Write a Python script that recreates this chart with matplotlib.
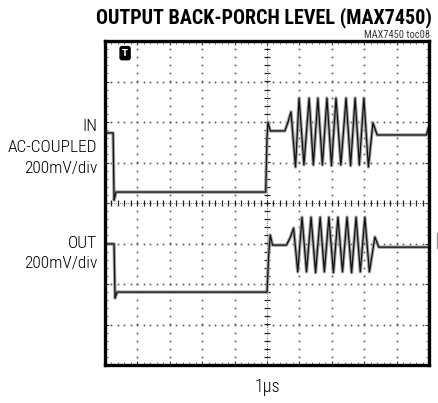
"""
plot.py

Scope capture: output back-porch level (MAX7450).
"""

import numpy as np
import matplotlib
matplotlib.use("Agg")
import matplotlib.pyplot as plt
from matplotlib.ticker import MultipleLocator


# ------------------------------------------------------
# Data (time in div = 1us/div, level in div = 200mV/div)
# ------------------------------------------------------

IN_TIME = [
    0.02, 0.25, 0.28, 0.34, 4.96, 5.00, 5.03, 5.10, 5.55, 5.65, 5.74, 5.88,
    5.99, 6.14, 6.30, 6.43, 6.57, 6.71, 6.85, 6.99, 7.13, 7.28, 7.44, 7.58,
    7.72, 7.85, 7.99, 8.13, 8.27, 8.40, 9.92, 9.98,
]

IN_LEVEL = [
    1.73, 1.73, 0.07, 0.27, 0.27, 1.60, 2.00, 1.78, 1.78, 2.00, 2.25, 0.89,
    2.59, 0.94, 2.59, 0.94, 2.59, 0.94, 2.59, 0.92, 2.59, 0.94, 2.59, 0.92,
    2.59, 0.94, 2.59, 0.89, 1.98, 1.68, 1.68, 1.85,
]

OUT_TIME = [
    0.02, 0.28, 0.31, 0.37, 5.00, 5.05, 5.10, 5.17, 5.60, 5.72, 5.82, 5.95,
    6.08, 6.22, 6.36, 6.50, 6.64, 6.77, 6.91, 7.05, 7.19, 7.33, 7.47, 7.61,
    7.75, 7.88, 8.02, 8.16, 8.33, 8.45, 9.98,
]

OUT_LEVEL = [
    -1.01, -1.01, -2.35, -2.20, -2.20, -1.30, -0.79, -1.04, -1.04, -0.85, -0.62, -1.70,
    -0.35, -1.70, -0.35, -1.72, -0.35, -1.70, -0.35, -1.72, -0.35, -1.70, -0.35, -1.72,
    -0.35, -1.70, -0.35, -1.70, -0.84, -1.09, -1.09,
]

LEFT_LABELS = [
    ("IN", 1.90),
    ("AC-COUPLED", 1.38),
    ("200mV/div", 0.86),
    ("OUT", -0.99),
    ("200mV/div", -1.49),
]

TITLE = "OUTPUT BACK-PORCH LEVEL (MAX7450)"
TAG = "MAX7450 toc08"
TIMEBASE = "1\u00b5s"

FONT = ["Roboto Condensed", "Roboto", "DejaVu Sans"]


# ------------------------------------------------------
# Graticule
# ------------------------------------------------------

def draw_graticule(ax):

    minor_x = np.arange(0, 10.01, 0.2)
    minor_y = np.arange(-4, 4.01, 0.2)

    for gx in range(1, 10):
        if gx == 5:
            continue
        ax.plot(
            np.full_like(minor_y, gx), minor_y,
            ls="none", marker="s", ms=1.2, color="#555555", mew=0
        )

    for gy in range(-3, 4):
        if gy == 0:
            continue
        ax.plot(
            minor_x, np.full_like(minor_x, gy),
            ls="none", marker="s", ms=1.2, color="#555555", mew=0
        )

    # center cross with minor marks
    ax.axvline(5, color="#444444", lw=0.6, ls=(0, (1, 1.5)))
    ax.axhline(0, color="#444444", lw=0.6, ls=(0, (1, 1.5)))

    ax.plot(
        np.full_like(minor_y, 5), minor_y,
        ls="none", marker="_", ms=4, mew=0.9, color="#222222"
    )
    ax.plot(
        minor_x, np.zeros_like(minor_x),
        ls="none", marker="|", ms=4, mew=0.9, color="#222222"
    )


# ------------------------------------------------------
# Traces
# ------------------------------------------------------

def draw_trace(ax, t, v):

    ax.plot(t, v, color="#a0a0a0", lw=2.4, solid_joinstyle="round")
    ax.plot(t, v, color="#111111", lw=0.9, solid_joinstyle="round")


# ------------------------------------------------------
# Main
# ------------------------------------------------------

def make_plot():

    fig = plt.figure(figsize=(4.38, 4.03), dpi=100)

    ax = fig.add_axes([105 / 438, 38 / 403, 324 / 438, 324 / 403])

    ax.set_xlim(0, 10)
    ax.set_ylim(-4, 4)

    draw_graticule(ax)

    draw_trace(ax, IN_TIME, IN_LEVEL)
    draw_trace(ax, OUT_TIME, OUT_LEVEL)

    # border ticks
    ax.xaxis.set_major_locator(MultipleLocator(1))
    ax.yaxis.set_major_locator(MultipleLocator(1))
    ax.xaxis.set_minor_locator(MultipleLocator(0.2))
    ax.yaxis.set_minor_locator(MultipleLocator(0.2))

    ax.tick_params(
        which="both", direction="in",
        top=True, right=True, bottom=True, left=True,
        labelbottom=False, labelleft=False
    )
    ax.tick_params(which="major", length=3, width=0.8, color="#333333")
    ax.tick_params(which="minor", length=2, width=0.6, color="#555555")

    for spine in ax.spines.values():
        spine.set_linewidth(2.4)
        spine.set_color("black")

    # trigger marker
    ax.text(
        0.62, 3.70, "T",
        color="white", fontsize=6, fontweight="bold",
        ha="center", va="center",
        bbox=dict(boxstyle="round,pad=0.25", fc="black", ec="black")
    )

    # channel marker outside the right edge
    ax.plot(
        [10.25, 10.25], [-0.74, -1.11],
        color="#999999", lw=1.0, clip_on=False
    )

    for text, y in LEFT_LABELS:
        ax.text(
            -0.24, y, text,
            ha="right", va="center",
            fontsize=12.5, fontweight="light", family=FONT
        )

    fig.text(
        432 / 438, 1 - 18 / 403, TITLE,
        ha="right", va="center",
        fontsize=14.5, fontweight="heavy", family=FONT
    )

    fig.text(
        430 / 438, 1 - 34.5 / 403, TAG,
        ha="right", va="center",
        fontsize=7.5, color="#333333", family=FONT
    )

    fig.text(
        267 / 438, 1 - 387 / 403, TIMEBASE,
        ha="center", va="center",
        fontsize=13, fontweight="light", family=FONT
    )

    fig.savefig("out.png", dpi=100)

    plt.close(fig)


if __name__ == "__main__":

    make_plot()
